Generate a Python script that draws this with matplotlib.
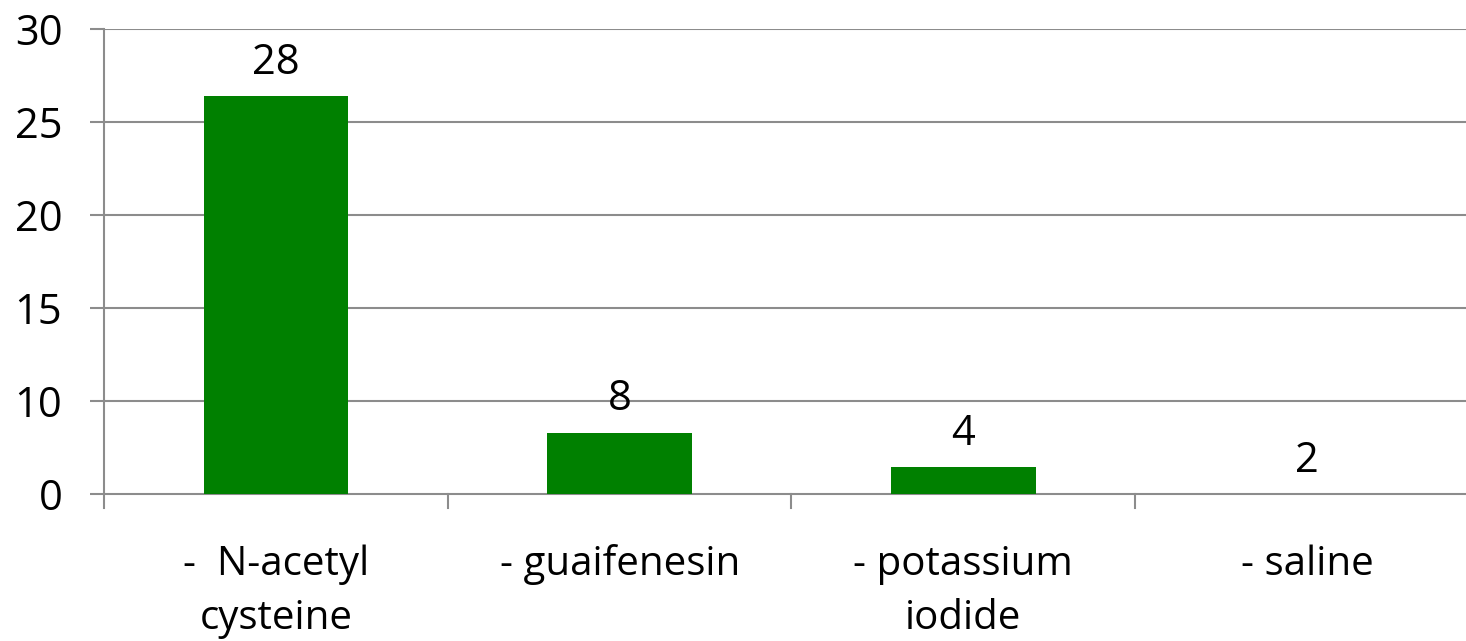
import numpy as np
import matplotlib
matplotlib.use("Agg")
from matplotlib import pyplot as plt

# data
categories = ["-  N-acetyl\ncysteine", "- guaifenesin", "- potassium\niodide", "- saline"]
bar_heights = [26.4, 6.6, 2.9, 0.0]     # where the bars reach, in axis-label units
value_labels = ["28", "8", "4", "2"]
tick_values = [0, 10, 15, 20, 25, 30]   # y labels are evenly spaced although not linear

plt.rcParams['font.family'] = ['Open Sans', 'DejaVu Sans']

# map axis-label units onto the evenly spaced tick positions
tick_pos = np.arange(len(tick_values))
heights_pos = np.interp(bar_heights, tick_values, tick_pos)

fig = plt.figure(figsize=(14.66, 6.41), dpi=100)
ax = fig.add_axes([104 / 1466, 133 / 641, 1375 / 1466, 479 / 641])

x = np.arange(len(categories))
grid_col = "#8c8c8c"

# gridlines
for p in tick_pos:
    ax.axhline(p, color=grid_col, lw=1.5, zorder=1)

ax.bar(x, heights_pos, width=0.42, color="#008000", zorder=2)

for xi, h, lab in zip(x, heights_pos, value_labels):
    ax.annotate(lab, (xi, h), xytext=(0, 16), textcoords="offset points",
                ha="center", va="baseline", fontsize=30)

ax.set_xlim(-0.5, len(categories) - 0.5)
ax.set_ylim(-0.15, tick_pos[-1])

# category boundary ticks hanging below the zero line
for b in np.arange(0.5, len(categories) - 0.5, 1.0):
    ax.plot([b, b], [-0.15, 0], color=grid_col, lw=1.5, clip_on=False, zorder=1)

ax.set_yticks(tick_pos)
ax.set_yticklabels([str(v) for v in tick_values], fontsize=30)
ax.tick_params(axis="y", length=10, width=1.5, color=grid_col, pad=20)

ax.set_xticks(x)
ax.set_xticklabels(categories, fontsize=29, linespacing=1.45)
ax.tick_params(axis="x", length=0, pad=26)

for s in ["top", "right", "bottom"]:
    ax.spines[s].set_visible(False)
ax.spines["left"].set_color(grid_col)
ax.spines["left"].set_linewidth(1.5)

fig.savefig("out.png", dpi=100)
